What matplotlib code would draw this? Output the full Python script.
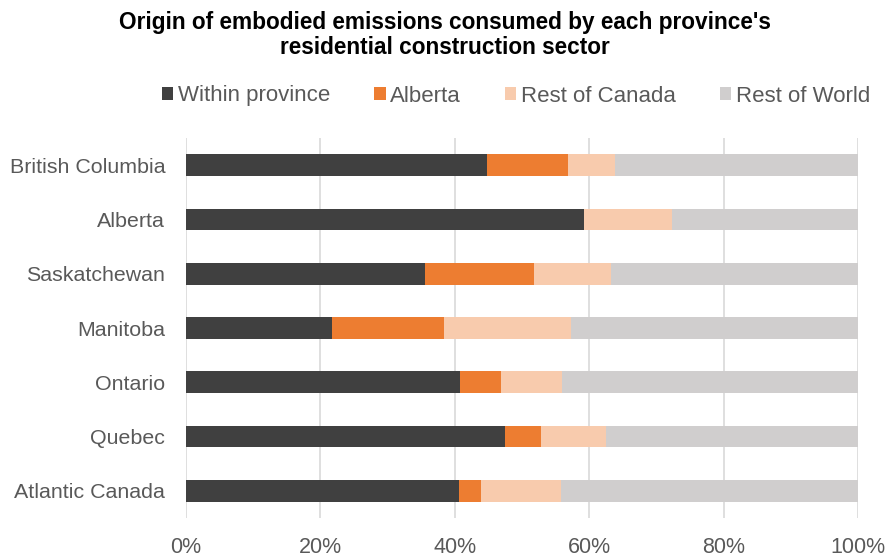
import numpy as np
import matplotlib.pyplot as plt
from matplotlib.patches import Patch

plt.rcParams['font.family'] = ['Liberation Sans', 'DejaVu Sans']

provinces = ['British Columbia', 'Alberta', 'Saskatchewan', 'Manitoba',
             'Ontario', 'Quebec', 'Atlantic Canada']
within = [44.8, 59.2, 35.5, 21.7, 40.7, 47.5, 40.6]
alberta = [12.0, 0.0, 16.3, 16.7, 6.2, 5.4, 3.3]
rest_canada = [7.1, 13.1, 11.4, 18.9, 9.1, 9.6, 11.9]
rest_world = [36.1, 27.7, 36.8, 42.7, 44.0, 37.5, 44.2]

series = ['Within province', 'Alberta', 'Rest of Canada', 'Rest of World']
colors = ['#404040', '#ED7D31', '#F8CBAD', '#D0CECE']
ticks = [0, 20, 40, 60, 80, 100]

fig = plt.figure(figsize=(8.89, 5.59), dpi=100)
ax = fig.add_axes([186 / 889, 1 - 518 / 559, 672 / 889, 380 / 559])

y = np.arange(len(provinces))
left = np.zeros(len(provinces))
for vals, col in zip([within, alberta, rest_canada, rest_world], colors):
    vals = np.array(vals)
    ax.barh(y, vals, left=left, height=0.4, color=col, zorder=3)
    left += vals

ax.set_xlim(0, 100)
ax.set_ylim(len(provinces) - 0.5, -0.5)
ax.set_yticks(y)
ax.set_yticklabels(provinces, fontsize=15.4, color='#595959')
ax.set_xticks(ticks)
ax.set_xticklabels([f'{t}%' for t in ticks], fontsize=15.5, color='#595959')
ax.tick_params(axis='y', length=0, pad=15)
ax.tick_params(axis='x', length=0, pad=14)
ax.xaxis.grid(True, color='#D9D9D9', linewidth=1.2, zorder=0)
for s in ax.spines.values():
    s.set_visible(False)

fig.text(0.5, 1 - 22 / 559, "Origin of embodied emissions consumed by each province's",
         ha='center', va='center', fontsize=16.3, fontweight='bold', color='black')
fig.text(0.5, 1 - 48 / 559, 'residential construction sector',
         ha='center', va='center', fontsize=16.3, fontweight='bold', color='black')

handles = [Patch(facecolor=c, edgecolor='none') for c in colors]
fig.legend(handles, series, loc='center', bbox_to_anchor=(516 / 889, 1 - 96 / 559),
           ncol=4, frameon=False, fontsize=16, labelcolor='#595959',
           handlelength=0.5, handleheight=0.5, handletextpad=0.2, columnspacing=2.0)

fig.savefig('out.png', dpi=100)
